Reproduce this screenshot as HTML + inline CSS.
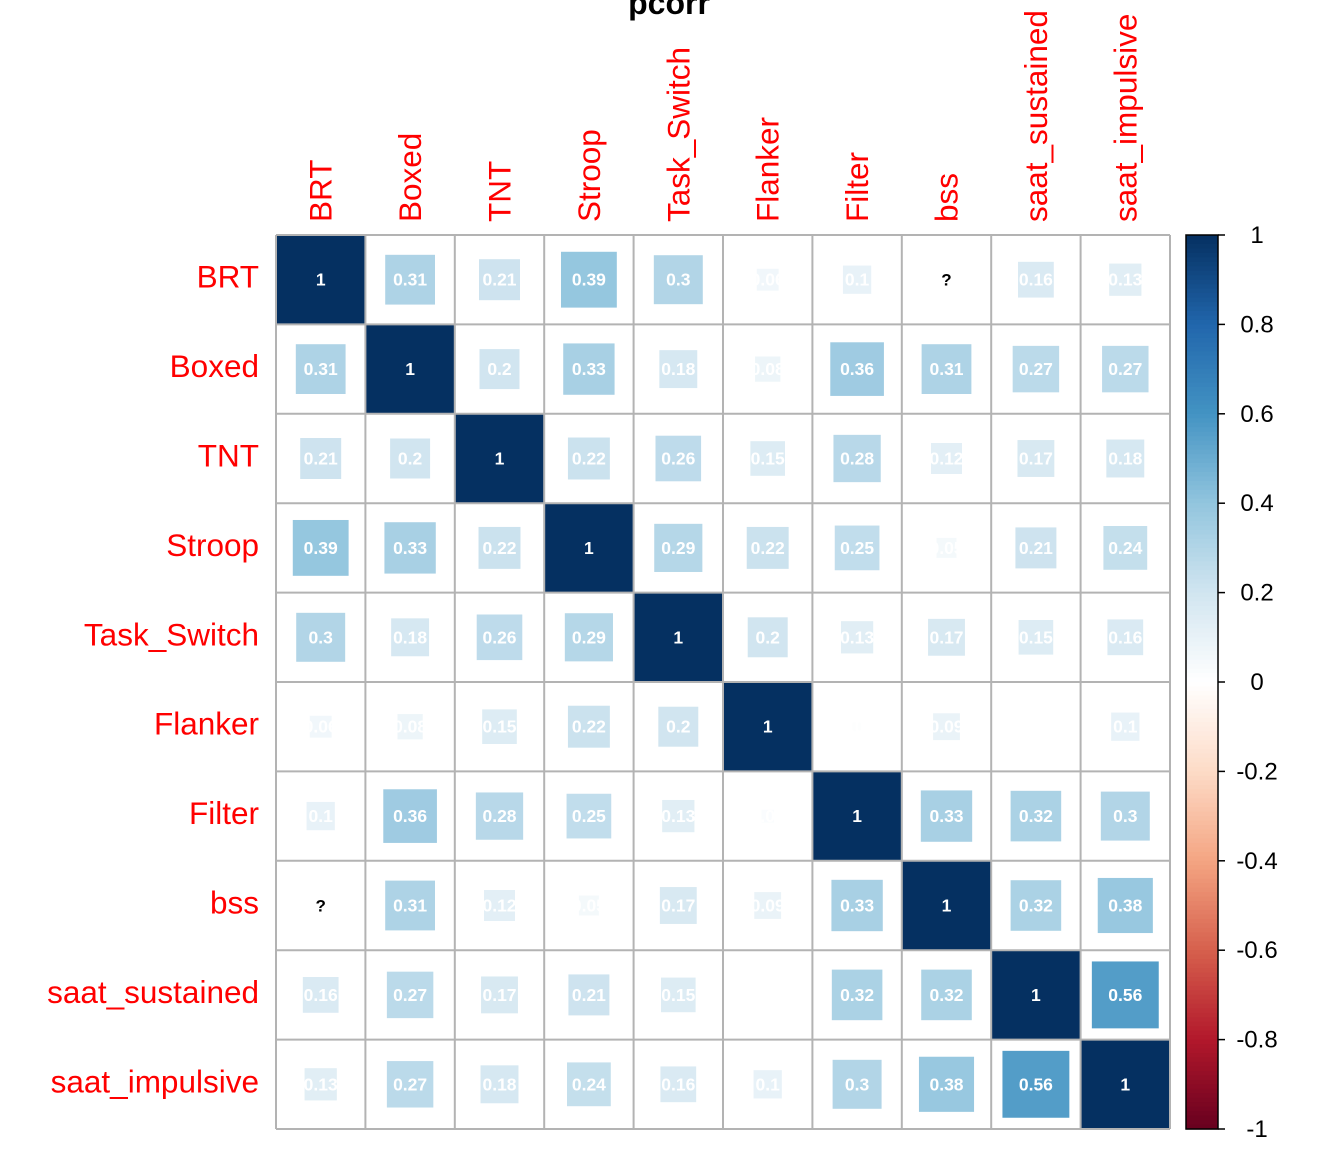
<!DOCTYPE html>
<html><head><meta charset="utf-8"><style>
html,body{margin:0;padding:0;background:#fff;}
svg{display:block;font-family:"Liberation Sans",Arial,sans-serif;}
</style></head><body>
<svg id="chart" width="1344" height="1152" viewBox="0 0 1344 1152" xmlns="http://www.w3.org/2000/svg">
<text x="669" y="14" text-anchor="middle" font-size="32" font-weight="bold">pcorr</text>
<g id="cells"></g>
<g id="labels"></g>
<g id="colorbar"></g>
</svg>
<script>
const variables = ["BRT","Boxed","TNT","Stroop","Task_Switch","Flanker","Filter","bss","saat_sustained","saat_impulsive"];
const row0 = [1,0.31,0.21,0.39,0.3,0.06,0.1,null,0.16,0.13];
const row1 = [0.31,1,0.2,0.33,0.18,0.08,0.36,0.31,0.27,0.27];
const row2 = [0.21,0.2,1,0.22,0.26,0.15,0.28,0.12,0.17,0.18];
const row3 = [0.39,0.33,0.22,1,0.29,0.22,0.25,0.05,0.21,0.24];
const row4 = [0.3,0.18,0.26,0.29,1,0.2,0.13,0.17,0.15,0.16];
const row5 = [0.06,0.08,0.15,0.22,0.2,1,0.01,0.09,0,0.1];
const row6 = [0.1,0.36,0.28,0.25,0.13,0.02,1,0.33,0.32,0.3];
const row7 = [null,0.31,0.12,0.05,0.17,0.09,0.33,1,0.32,0.38];
const row8 = [0.16,0.27,0.17,0.21,0.15,0,0.32,0.32,1,0.56];
const row9 = [0.13,0.27,0.18,0.24,0.16,0.1,0.3,0.38,0.56,1];
const matrix = [row0,row1,row2,row3,row4,row5,row6,row7,row8,row9];
const colorTicks = [1,0.8,0.6,0.4,0.2,0,-0.2,-0.4,-0.6,-0.8,-1];

const NS="http://www.w3.org/2000/svg";
const x0=276, y0=235, gw=894, n=variables.length, cw=gw/n;
const cx = j => x0 + cw*(j+0.5);
const cy = i => y0 + cw*(i+0.5);
const palette=["#67001F","#B2182B","#D6604D","#F4A582","#FDDBC7","#FFFFFF","#D1E5F0","#92C5DE","#4393C3","#2166AC","#053061"];
function hex(h){return [1,3,5].map(k=>parseInt(h.substr(k,2),16));}
function color(v){
  const t=(v+1)/2*(palette.length-1);
  const i=Math.min(palette.length-2,Math.floor(t)), f=t-i;
  const a=hex(palette[i]), b=hex(palette[i+1]);
  return "rgb("+a.map((c,k)=>Math.round(c+(b[k]-c)*f)).join(",")+")";
}
function mk(tag,attrs,parent){const e=document.createElementNS(NS,tag);for(const k in attrs)e.setAttribute(k,attrs[k]);parent.appendChild(e);return e;}
const cells=document.getElementById("cells");
mk("rect",{x:x0,y:y0,width:gw,height:gw,fill:"#fff"},cells);
matrix.forEach((row,i)=>row.forEach((v,j)=>{
  if(v===null){
    const t=mk("text",{x:cx(j),y:cy(i)+6,"text-anchor":"middle","font-size":17,"font-weight":"bold",fill:"#000"},cells);
    
    
    t.textContent="?";
    return;
  }
  const s=Math.sqrt(Math.abs(v))*cw;
  const r=mk("rect",{x:cx(j)-s/2,y:cy(i)-s/2,width:s,height:s,fill:color(v)},cells);
  
  
  const t=mk("text",{x:cx(j),y:cy(i)+6,"text-anchor":"middle","font-size":17.5,"font-weight":"bold",fill:"#fff"},cells);
  
  
  t.textContent=String(v);
}));
for(let k=0;k<=n;k++){
  mk("line",{x1:x0+k*cw,y1:y0,x2:x0+k*cw,y2:y0+gw,stroke:"#b3b3b3","stroke-width":2},cells);
  mk("line",{x1:x0,y1:y0+k*cw,x2:x0+gw,y2:y0+k*cw,stroke:"#b3b3b3","stroke-width":2},cells);
}
const labels=document.getElementById("labels");
variables.forEach((name,i)=>{
  const t=mk("text",{x:259,y:cy(i)+8,"text-anchor":"end","font-size":31.5,fill:"#ff0000"},labels);
  
  
  t.textContent=name;
  const c=mk("text",{transform:"translate("+(cx(i)+11)+",222) rotate(-90)","text-anchor":"start","font-size":31.5,fill:"#ff0000"},labels);
  
  
  c.textContent=name;
});
const cb=document.getElementById("colorbar");
const bx=1186,bw=32,by=235,bh=894;
const steps=200;
for(let k=0;k<steps;k++){
  const v=1-2*(k+0.5)/steps;
  mk("rect",{x:bx,y:by+bh*k/steps,width:bw,height:bh/steps+0.6,fill:color(v)},cb);
}
const br=mk("rect",{x:bx,y:by,width:bw,height:bh,fill:"none",stroke:"#000","stroke-width":1.5},cb);


const ty=v=>by+(1-v)/2*bh;
colorTicks.forEach(v=>{
  mk("line",{x1:bx+bw,y1:ty(v),x2:bx+bw+7,y2:ty(v),stroke:"#000","stroke-width":1.5},cb);
  const t=mk("text",{x:1257,y:ty(v)+8,"text-anchor":"middle","font-size":24,fill:"#000"},cb);
  
  
  t.textContent=String(v);
});
</script>
</body></html>
